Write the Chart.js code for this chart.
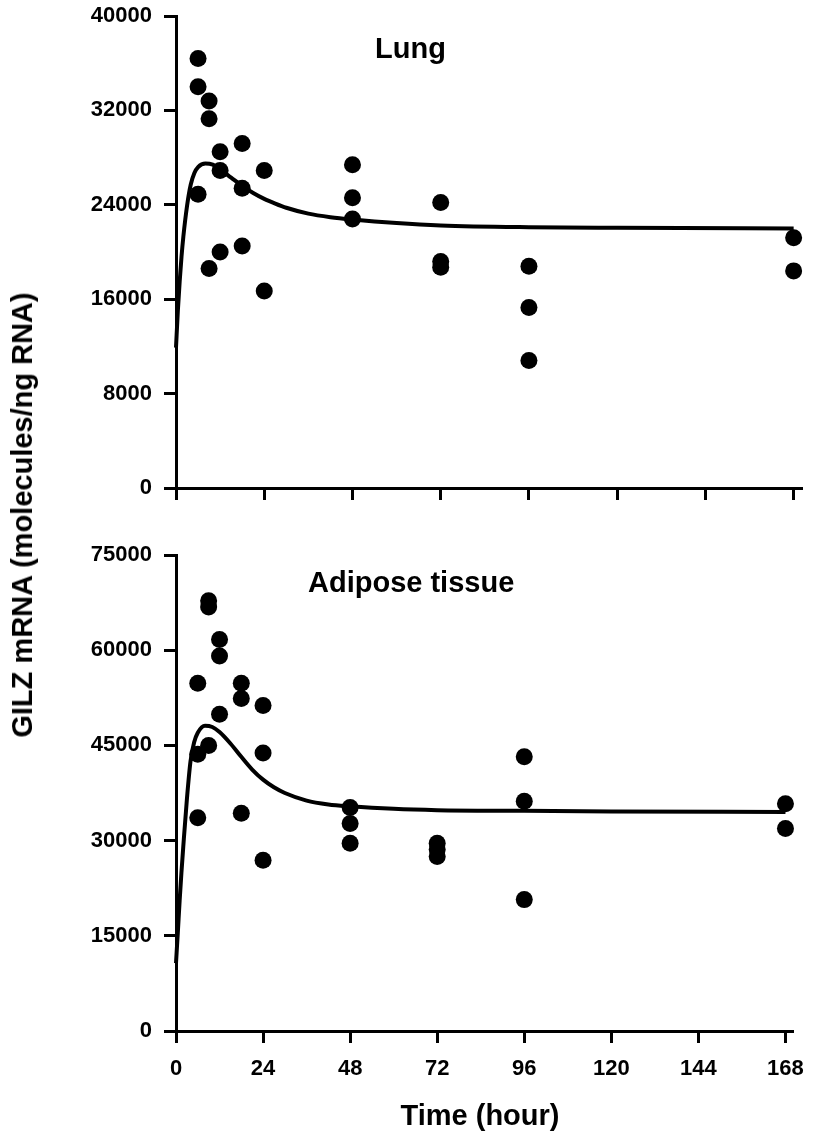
<!DOCTYPE html>
<html>
<head>
<meta charset="utf-8">
<script src="https://cdn.jsdelivr.net/npm/chart.js@4"></script>
<style>
  body { margin: 0; background: #fff; }
  #page { position: relative; width: 817px; height: 1133px; overflow: hidden; background: #fff; }
  .panel { position: absolute; left: 0; width: 817px; }
  .label { position: absolute; font-family: "Liberation Sans", Arial, sans-serif; font-weight: bold; color: #000; white-space: nowrap; line-height: 1; }
</style>
</head>
<body>
<div id="page">
  <div class="panel" style="top:-10px; height:528px;"><canvas id="lung"></canvas></div>
  <div class="panel" style="top:518px; height:615px;"><canvas id="adipose"></canvas></div>

  <div class="label" style="left:375px; top:34px; font-size:29px;">Lung</div>
  <div class="label" style="left:308px; top:568px; font-size:29px;">Adipose tissue</div>
  <div class="label" style="left:480px; top:1101px; font-size:29px; transform:translateX(-50%);">Time (hour)</div>
  <div class="label" style="left:22px; top:515px; font-size:29px; line-height:34px; transform:translate(-50%,-50%) rotate(-90deg);">GILZ mRNA (molecules/ng RNA)</div>
</div>

<script>
// time axis (hours)
const timeTicks = [0, 24, 48, 72, 96, 120, 144, 168];

// lung: measured samples
const lungTime = [6, 6, 6, 9, 9, 9, 12, 12, 12, 18, 18, 18, 24, 24, 48, 48, 48, 72, 72, 72, 96, 96, 96, 168, 168];
const lungValue = [36400, 34000, 24900, 32800, 31300, 18600, 28500, 26900, 20000, 29200, 25400, 20500,
  26900, 16700, 27400, 24600, 22800, 24200, 19200, 18700, 18800, 15300, 10800, 21200, 18400];
const lungTicks = [0, 8000, 16000, 24000, 32000, 40000];

// adipose tissue: measured samples
const adiposeTime = [6, 6, 6, 9, 9, 9, 12, 12, 12, 18, 18, 18, 24, 24, 24, 48, 48, 48, 72, 72, 72, 96, 96, 96, 168, 168];
const adiposeValue = [54800, 43600, 33600, 67800, 66800, 45000, 61700, 59100, 49900, 54800, 52400, 34300,
  51300, 43800, 26900, 35200, 32700, 29600, 29600, 28600, 27500, 43200, 36200, 20700, 35800, 31900];
const adiposeTicks = [0, 15000, 30000, 45000, 60000, 75000];

// fitted curves
const fitTime = [0, 0.5, 1, 1.5, 2, 3, 4, 5, 6, 8, 10, 12, 15, 18, 21, 24, 27, 30, 36, 42, 48, 60, 72, 96, 120, 168];
const lungFit = [11900, 15000, 17500, 19600, 21300, 23900, 25700, 26700, 27200, 27500, 27400, 27000,
  26300, 25600, 25000, 24500, 24100, 23750, 23250, 22950, 22750, 22450, 22250, 22100, 22050, 22000];
const adiposeFit = [10700, 15500, 20500, 25000, 29000, 36500, 42500, 45500, 47000, 48100, 47900, 47100,
  45300, 43200, 41200, 39600, 38400, 37500, 36300, 35700, 35400, 35000, 34800, 34700, 34600, 34500];

Chart.defaults.font.family = "'Liberation Sans', Arial, sans-serif";
Chart.defaults.color = "#000";

function pairs(xs, ys) {
  return xs.map((x, i) => ({ x: x, y: ys[i] }));
}

function makeOptions(yTicks, padTop, padBottom, xHeight, showXLabels) {
  return {
    responsive: true,
    maintainAspectRatio: false,
    animation: false,
    layout: { padding: { left: 0, right: 16, top: padTop, bottom: padBottom } },
    plugins: { legend: { display: false }, tooltip: { enabled: false } },
    scales: {
      x: {
        type: "linear",
        min: 0,
        max: 170,
        afterBuildTicks: (scale) => { scale.ticks = timeTicks.map((v) => ({ value: v })); },
        afterFit: (scale) => { scale.height = xHeight; },
        ticks: {
          display: showXLabels,
          padding: 13,
          font: { size: 22, weight: "bold" },
          color: "#000",
          maxRotation: 0,
        },
        grid: { drawOnChartArea: false, drawTicks: true, tickLength: 12, color: "#000", lineWidth: 3 },
        border: { display: true, color: "#000", width: 3 },
      },
      y: {
        type: "linear",
        min: yTicks[0],
        max: yTicks[yTicks.length - 1],
        afterBuildTicks: (scale) => { scale.ticks = yTicks.map((v) => ({ value: v })); },
        afterFit: (scale) => { scale.width = 176; },
        ticks: {
          padding: 12,
          font: { size: 22, weight: "bold" },
          color: "#000",
          callback: (v) => String(v),
        },
        grid: { drawOnChartArea: false, drawTicks: true, tickLength: 12, color: "#000", lineWidth: 3 },
        border: { display: true, color: "#000", width: 3 },
      },
    },
  };
}

function makeData(time, values, fit) {
  return {
    datasets: [
      {
        data: pairs(fitTime, fit),
        showLine: true,
        borderColor: "#000",
        borderWidth: 4,
        pointRadius: 0,
        cubicInterpolationMode: "monotone",
        clip: false,
      },
      {
        data: pairs(time, values),
        pointRadius: 8.5,
        pointBackgroundColor: "#000",
        pointBorderWidth: 0,
        clip: false,
      },
    ],
  };
}

function createChart(id, data, options) {
  const ctx = document.getElementById(id).getContext("2d");
  return new Chart(ctx, { type: "scatter", data: data, options: options });
}

createChart("lung", makeData(lungTime, lungValue, lungFit), makeOptions(lungTicks, 26, 0, 30, false));
createChart("adipose", makeData(adiposeTime, adiposeValue, adiposeFit), makeOptions(adiposeTicks, 37, 32, 70, true));
</script>
</body>
</html>
